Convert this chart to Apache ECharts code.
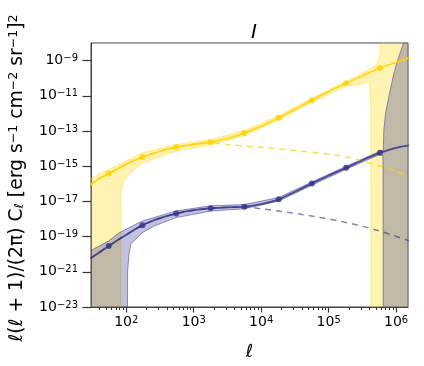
<!DOCTYPE html>
<html>
<head>
<meta charset="utf-8">
<script src="https://cdn.jsdelivr.net/npm/echarts@6/dist/echarts.min.js"></script>
<style>
  html, body { margin: 0; padding: 0; background: #fff; }
  #chart { width: 424px; height: 366px; }
</style>
</head>
<body>
<div id="chart"></div>
<script>
// all values are log10: x = log10(ell), y = log10(ell(ell+1)C_ell/2pi)
var xMin = Math.log10(30), xMax = Math.log10(1.5e6);
var yMin = -23, yMax = -8;
var xMajor = [2, 3, 4, 5, 6];
var yMajor = [-23, -21, -19, -17, -15, -13, -11, -9];

// solid curves
var logL = [1.47, 1.6, 1.74, 2.0, 2.24, 2.5, 2.74, 3.0, 3.25, 3.5, 3.75, 4.0, 4.26, 4.5, 4.75, 5.0, 5.26, 5.5, 5.76, 6.0, 6.19];
var yellowLine = [-16.05, -15.7, -15.42, -14.88, -14.48, -14.15, -13.92, -13.76, -13.63, -13.42, -13.12, -12.72, -12.25, -11.76, -11.25, -10.76, -10.29, -9.86, -9.42, -9.1, -8.85];
var blueLine = [-20.24, -19.9, -19.53, -18.9, -18.35, -17.95, -17.69, -17.5, -17.39, -17.34, -17.3, -17.15, -16.88, -16.45, -15.99, -15.53, -15.09, -14.66, -14.24, -13.96, -13.82];
var markedL = [1.74, 2.24, 2.74, 3.25, 3.75, 4.26, 4.75, 5.26, 5.76];

// dashed curves
var yellowDashL = [1.47, 1.74, 2.24, 2.74, 3.25, 3.5, 4.0, 4.58, 5.22, 5.77, 6.19];
var yellowDash = [-16.05, -15.42, -14.48, -13.92, -13.68, -13.77, -13.93, -14.14, -14.45, -15.0, -15.56];
var blueDashL = [1.47, 1.74, 2.24, 2.74, 3.25, 3.75, 4.0, 4.6, 5.2, 5.7, 6.19];
var blueDash = [-20.24, -19.53, -18.35, -17.69, -17.39, -17.32, -17.42, -17.74, -18.15, -18.62, -19.24];

// uncertainty bands [log ell, log value]
var yellowUpper = [[1.47, -15.71], [1.74, -15.18], [2.24, -14.23], [2.74, -13.76], [3.25, -13.5], [3.75, -12.98], [4.26, -12.13], [4.75, -11.13], [5.26, -10.18], [5.42, -9.86], [5.595, -9.52], [5.71, -9.23], [5.755, -8.75], [5.77, -8.08], [5.775, -7], [6.19, -7]];
var yellowLower = [[1.47, -30], [1.915, -30], [1.92, -16.4], [1.96, -15.9], [2.045, -15.46], [2.24, -14.8], [2.74, -14.14], [3.25, -13.8], [3.75, -13.25], [4.26, -12.37], [4.75, -11.37], [5.26, -10.45], [5.46, -10.37], [5.58, -10.2], [5.615, -10.3], [5.625, -11.5], [5.63, -30], [6.19, -30]];
var blueUpper = [[1.47, -19.81], [1.74, -19.24], [1.9, -18.77], [2.24, -18.11], [2.74, -17.54], [3.25, -17.25], [3.75, -17.18], [4.26, -16.78], [4.75, -15.9], [5.26, -15.0], [5.76, -14.15], [5.81, -14.1], [5.818, -12.92], [5.844, -11.97], [5.893, -11.03], [5.967, -9.7], [6.042, -8.76], [6.107, -8.02], [6.15, -7.5], [6.19, -7]];
var blueLower = [[1.47, -30], [2.01, -30], [2.02, -21], [2.04, -20.0], [2.07, -19.4], [2.14, -19.15], [2.24, -18.77], [2.42, -18.39], [2.74, -17.92], [3.25, -17.55], [3.75, -17.42], [4.26, -16.98], [4.75, -16.08], [5.26, -15.17], [5.76, -14.33], [5.805, -14.4], [5.812, -30], [6.19, -30]];

var minorTicks = [];
for (var n = 1; n <= 6; n++) {
  for (var k = 2; k <= 9; k++) {
    var v = k * Math.pow(10, n);
    if (v > 30 && v < 1.5e6) minorTicks.push(Math.log10(v));
  }
}

var YEL = '#ffd200', BLU = '#33338a';
var FONT = 'DejaVu Sans';

function pairs(xs, ys) {
  return xs.map(function (x, i) { return [x, ys[i]]; });
}
function marked(xs, ys) {
  return xs.map(function (x, i) {
    return { value: [x, ys[i]], symbolSize: markedL.indexOf(x) >= 0 ? 6 : 0 };
  });
}
function band(upper, lower, fill, stroke) {
  return {
    type: 'custom', clip: true, silent: true,
    data: [upper[0]], encode: { x: 0, y: 1 },
    renderItem: function (params, api) {
      var pts = upper.concat(lower.slice().reverse()).map(function (p) { return api.coord(p); });
      return { type: 'polygon', shape: { points: pts }, style: { fill: fill, stroke: stroke, lineWidth: 1 } };
    }
  };
}

var tickRich = {
  b: { fontFamily: FONT, fontSize: 14, lineHeight: 14, padding: [3, 0, 0, 0], color: '#000', verticalAlign: 'bottom' },
  s: { fontFamily: FONT, fontSize: 10, lineHeight: 10, color: '#000', verticalAlign: 'top' }
};

var chart = echarts.init(document.getElementById('chart'), null, { renderer: 'canvas' });
chart.setOption({
  animation: false,
  title: {
    text: 'I', left: 249, top: 18, textAlign: 'center',
    textStyle: { fontFamily: FONT, fontSize: 20, fontStyle: 'italic', fontWeight: 'normal', color: '#000' }
  },
  grid: { left: 91, right: 16, top: 43, bottom: 58, show: true, borderColor: '#444', borderWidth: 1, backgroundColor: 'transparent' },
  xAxis: [{
    type: 'value', min: xMin, max: xMax, position: 'bottom',
    name: 'ℓ', nameLocation: 'middle', nameGap: 36,
    nameTextStyle: { fontFamily: FONT, fontSize: 18, fontStyle: 'italic', color: '#000' },
    axisLine: { show: true, lineStyle: { color: '#444', width: 1 } },
    axisTick: { show: true, length: 5.5, lineStyle: { color: '#333', width: 1.2 }, customValues: xMajor },
    axisLabel: {
      customValues: xMajor, margin: 8,
      formatter: function (v) { return '{b|10}{s|' + Math.round(v) + '}'; },
      rich: tickRich
    },
    splitLine: { show: false }
  }, {
    type: 'value', min: xMin, max: xMax, position: 'bottom', offset: 0,
    axisLine: { show: false },
    axisTick: { show: true, length: 3, lineStyle: { color: '#333', width: 1 }, customValues: minorTicks },
    axisLabel: { show: false },
    splitLine: { show: false }
  }],
  yAxis: {
    type: 'value', min: yMin, max: yMax,
    axisLine: { show: true, lineStyle: { color: '#444', width: 1 } },
    axisTick: { show: true, length: 8.5, lineStyle: { color: '#333', width: 1.2 }, customValues: yMajor },
    axisLabel: {
      customValues: yMajor, margin: 13,
      formatter: function (v) { return '{b|10}{s|−' + Math.abs(Math.round(v)) + '}'; },
      rich: tickRich
    },
    splitLine: { show: false }
  },
  graphic: [{
    type: 'text', x: 17, y: 178, rotation: Math.PI / 2,
    style: {
      text: '{i|ℓ}{n|(}{i|ℓ}{n| + 1)/(2π) }{n|C}{sub|ℓ}{n| [erg s}{sup|−1}{n| cm}{sup|−2}{n| sr}{sup|−1}{n|]}{sup|2}',
      align: 'center', verticalAlign: 'middle',
      rich: {
        n: { fontFamily: FONT, fontSize: 18.8, lineHeight: 19, padding: [4, 0, 3, 0], fill: '#000' },
        i: { fontFamily: FONT, fontSize: 18.8, lineHeight: 19, fontStyle: 'italic', padding: [4, 0, 3, 0], fill: '#000' },
        sup: { fontFamily: FONT, fontSize: 12.5, lineHeight: 12, verticalAlign: 'top', fill: '#000' },
        sub: { fontFamily: FONT, fontSize: 12.5, lineHeight: 12, fontStyle: 'italic', verticalAlign: 'bottom', fill: '#000' }
      }
    }
  }],
  series: [
    band(yellowUpper, yellowLower, 'rgba(255,215,0,0.3)', 'rgba(255,210,0,0.4)'),
    band(blueUpper, blueLower, 'rgba(50,50,140,0.3)', 'rgba(50,50,140,0.5)'),
    {
      type: 'line', data: pairs(yellowDashL, yellowDash), smooth: 0.3, symbol: 'none',
      lineStyle: { color: YEL, opacity: 0.7, width: 1.5, type: [6, 5] }, z: 3
    },
    {
      type: 'line', data: pairs(blueDashL, blueDash), smooth: 0.3, symbol: 'none',
      lineStyle: { color: BLU, opacity: 0.6, width: 1.5, type: [6, 5] }, z: 3
    },
    {
      type: 'line', data: marked(logL, yellowLine), smooth: 0.3, symbol: 'circle', showAllSymbol: true,
      lineStyle: { color: YEL, opacity: 0.85, width: 1.8 }, itemStyle: { color: YEL, opacity: 0.8 }, z: 4
    },
    {
      type: 'line', data: marked(logL, blueLine), smooth: 0.3, symbol: 'circle', showAllSymbol: true,
      lineStyle: { color: BLU, opacity: 0.85, width: 1.8 }, itemStyle: { color: BLU, opacity: 0.8 }, z: 4
    }
  ]
});
</script>
</body>
</html>
